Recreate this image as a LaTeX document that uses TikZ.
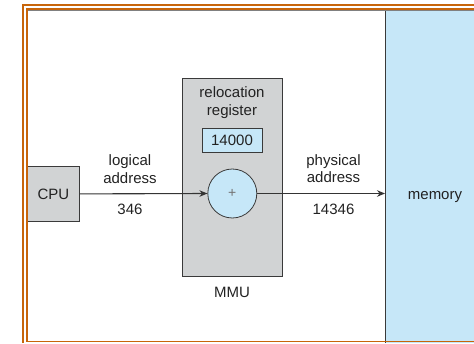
\documentclass[tikz,border=0pt]{standalone}
\usepackage{fontspec}
\setmainfont{Liberation Sans}
\usetikzlibrary{arrows.meta}
\definecolor{frameorange}{HTML}{C8650A}
\definecolor{membl}{HTML}{C6E7F8}
\definecolor{boxgray}{HTML}{D1D3D4}
\definecolor{edgec}{HTML}{3A3A3A}
\definecolor{txtc}{HTML}{222222}
\begin{document}
\begin{tikzpicture}[x=1pt,y=-1pt,
  font=\fontsize{15}{17.5}\selectfont,
  txt/.style={inner sep=0pt, text=txtc, anchor=base},
  boxline/.style={draw=edgec, line width=0.8pt},
  arr/.style={draw=edgec!90!black, line width=1.1pt, -{Stealth[length=8pt,width=6.5pt]}},
  orangeline/.style={draw=frameorange, line width=1.5pt}]
\useasboundingbox (0,0) rectangle (474,343);
% memory
\node (mem) [fill=membl, anchor=north west, minimum width=89pt, minimum height=333.5pt, inner sep=0pt] at (385,9.5) {};
\draw[edgec, line width=0.8pt] (mem.north west) -- (mem.south west);
\node (memlbl) [txt] at (435,199.3) {memory};
% CPU
\node (cpu) [boxline, fill=boxgray, anchor=north west, minimum width=52pt, minimum height=55pt, inner sep=0pt, text=txtc] at (27,166) {CPU};
% MMU
\node (mmu) [boxline, fill=boxgray, anchor=north west, minimum width=100pt, minimum height=198pt, inner sep=0pt] at (182,78) {};
\node (rel1) [txt] at (232,97.7) {relocation};
\node (rel2) [txt] at (232,115) {register};
\node (reg) [boxline, fill=membl, anchor=north west, minimum width=60pt, minimum height=24pt, inner sep=0pt] at (202,128.3) {};
\node (regval) [txt] at (232,145.7) {14000};
\node (adder) [boxline, fill=membl, circle, minimum size=49pt, inner sep=0pt] at (232.3,193.5) {};
\node (plus) [inner sep=0pt, text=black!55, font=\fontsize{14}{16}\selectfont] at (adder.center) {+};
\node (mmulbl) [txt] at (232,297.7) {MMU};
% arrows
\draw[arr] (cpu.east) -- (adder.west);
\draw[arr] (adder.east) -- (adder.east -| mem.west);
% labels
\node (log1) [txt] at (130,165.5) {logical};
\node (log2) [txt] at (130,183) {address};
\node (lval) [txt] at (130,214) {346};
\node (phy1) [txt] at (333.5,165.2) {physical};
\node (phy2) [txt] at (333.5,182.5) {address};
\node (pval) [txt] at (333.5,214) {14346};
% frame
\draw[gray, line width=0.5pt] (28,10.2) -- (474,10.2);
\draw[orangeline] (23,343) -- (23,5.2) -- (474,5.2);
\draw[orangeline] (27,341.5) -- (27,9) -- (474,9);
\draw[orangeline] (27,341.5) -- (474,341.5);
\end{tikzpicture}
\end{document}
